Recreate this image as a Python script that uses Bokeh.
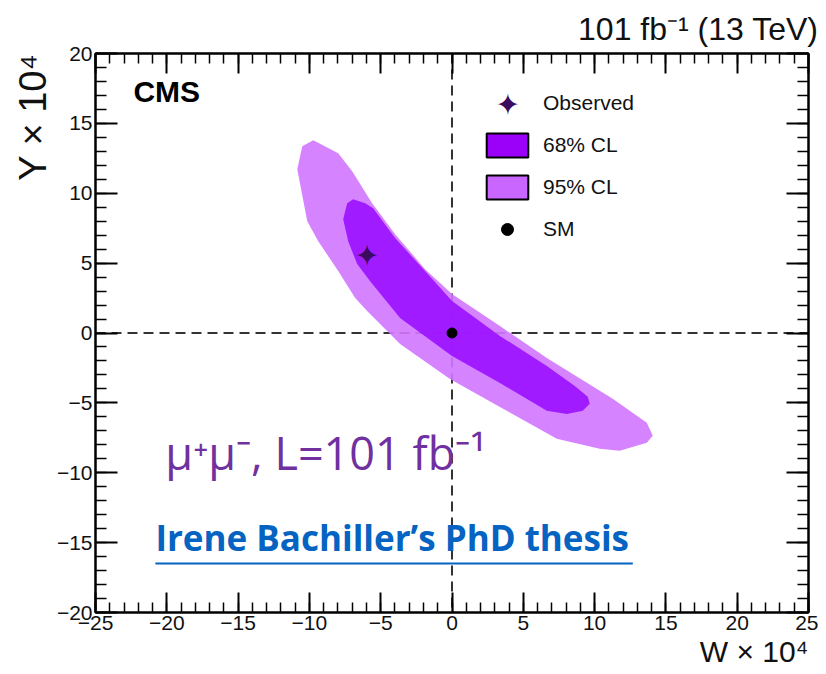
from math import pi
from bokeh.plotting import figure
from bokeh.models import (Range1d, LinearAxis, FixedTicker, Span, Label, Legend, Title,
                          LegendItem, BoxAnnotation, PolyAnnotation, CustomJSTickFormatter)
from bokeh.core.properties import value
from bokeh.embed import file_html
from bokeh.resources import INLINE

# ---------------- data ----------------
x_ticks = [-25, -20, -15, -10, -5, 0, 5, 10, 15, 20, 25]
x_tick_labels = ["\u221225", "\u221220", "\u221215", "\u221210", "\u22125", "0", "5", "10", "15", "20", "25"]
x_minor = list(range(-25, 26))
y_ticks = [-20, -15, -10, -5, 0, 5, 10, 15, 20]
y_tick_labels = ["\u221220", "\u221215", "\u221210", "\u22125", "0", "5", "10", "15", "20"]
y_minor = list(range(-20, 21))

# 95% CL contour (W x 1e4, Y x 1e4)
cl95_w = [-9.73, -7.98, -7.0, -5.6, -3.99, -1.89, 0.0, 3.36, 6.65, 11.27, 13.66, 14.08, 13.66,
          11.76, 10.36, 7.35, 3.36, -0.14, -3.64, -5.95, -6.79, -7.98, -9.38, -10.15, -10.85, -10.5]
cl95_y = [13.79, 12.86, 11.57, 9.29, 7.07, 4.57, 2.79, 0.5, -1.79, -4.71, -6.43, -7.36, -7.86,
          -8.43, -8.29, -7.57, -5.29, -3.29, -0.79, 1.57, 2.5, 4.43, 6.57, 8.0, 11.71, 13.36]

# 68% CL contour
cl68_w = [-7.35, -6.93, -6.09, -5.53, -3.99, -1.89, 0.0, 3.36, 6.65, 8.61, 9.52, 9.66, 9.17,
          8.05, 6.65, 3.36, 0.0, -3.64, -5.74, -6.65, -7.28, -7.63]
cl68_y = [9.29, 9.57, 9.29, 8.93, 6.79, 4.43, 2.29, -0.21, -2.36, -3.79, -4.57, -5.07, -5.57,
          -5.79, -5.57, -3.57, -1.64, 1.07, 3.71, 4.93, 6.57, 8.14]

obs_w, obs_y = [-5.95], [5.57]
sm_w, sm_y = [0.0], [0.0]

legend_labels = ["Observed", "68% CL", "95% CL", "SM"]

# ---------------- figure ----------------
FONT = "Liberation Sans"
p = figure(frame_width=713, frame_height=559, x_range=Range1d(-25, 25), y_range=Range1d(-20, 20),
           output_backend="svg", toolbar_location=None,
           min_border_left=95, min_border_right=10, min_border_top=53, min_border_bottom=61)
p.grid.visible = False
p.outline_line_color = "black"
p.outline_line_width = 2
p.background_fill_color = "white"
p.border_fill_color = "white"

p.add_layout(LinearAxis(), "above")
p.add_layout(LinearAxis(), "right")


def style_axis(ax, ticks, minor, labels, major_len, minor_len, show):
    ax.ticker = FixedTicker(ticks=ticks, minor_ticks=minor)
    ax.major_tick_in = major_len
    ax.major_tick_out = 0
    ax.minor_tick_in = minor_len
    ax.minor_tick_out = 0
    ax.axis_line_width = 2
    ax.axis_line_color = "black"
    ax.major_tick_line_width = 2
    ax.minor_tick_line_width = 1.5
    ax.major_tick_line_color = "black"
    ax.minor_tick_line_color = "black"
    if show:
        ax.major_label_overrides = {t: l for t, l in zip(ticks, labels)}
        ax.major_label_text_font = FONT
        ax.major_label_text_font_size = "21px"
        ax.major_label_text_color = "#111111"
        ax.major_label_standoff = 3
    else:
        ax.formatter = CustomJSTickFormatter(code="return ''")
        ax.major_label_standoff = 0


style_axis(p.below[0], x_ticks, x_minor, x_tick_labels, 20, 10, True)
style_axis(p.above[0], x_ticks, x_minor, x_tick_labels, 20, 10, False)
style_axis(p.left[0], y_ticks, y_minor, y_tick_labels, 22, 11, True)
style_axis(p.right[0], y_ticks, y_minor, y_tick_labels, 22, 11, False)

# axis titles and energy/lumi text in the side panels
p.add_layout(Title(text="101 fb\u207b\u00b9 (13 TeV)", align="right", offset=-10, standoff=13,
                   text_font=FONT, text_font_size="32px", text_font_style="normal",
                   text_color="#111111"), "above")
p.add_layout(Title(text="W \u00d7 10\u2074", align="right", offset=0, standoff=0,
                   text_font=FONT, text_font_size="30px", text_font_style="normal",
                   text_color="#111111"), "below")
p.add_layout(Title(text="Y \u00d7 10\u2074", align="right", offset=0, standoff=0,
                   text_font=FONT, text_font_size="38px", text_font_style="normal",
                   text_color="#111111"), "left")

# dashed reference lines (under the contours)
p.add_layout(Span(location=0, dimension="height", line_color="#333333", line_width=2,
                  line_dash="10 6", level="underlay"))
p.add_layout(Span(location=0, dimension="width", line_color="#333333", line_width=2,
                  line_dash="10 6", level="underlay"))

r95 = p.patch(cl95_w, cl95_y, fill_color="#D175FF", fill_alpha=0.9, line_color=None)
r68 = p.patch(cl68_w, cl68_y, fill_color="#9A0FFF", fill_alpha=0.9, line_color=None)
r_sm = p.scatter(sm_w, sm_y, size=10, color="black")
r_obs = p.text(x=obs_w, y=obs_y, text=["\u2726"], text_font=value("DejaVu Sans"),
               text_font_size="30px", text_align="center", text_baseline="middle",
               text_color="#3A0B5E")

# legend proxies (not drawn in the plot area)
leg68 = p.patch(cl68_w, cl68_y, fill_color="#9B00F8", line_color="black", line_width=2, visible=False)
leg95 = p.patch(cl95_w, cl95_y, fill_color="#C966FF", line_color="black", line_width=2, visible=False)

legend = Legend(items=[LegendItem(label=legend_labels[0], renderers=[r_obs]),
                       LegendItem(label=legend_labels[1], renderers=[leg68]),
                       LegendItem(label=legend_labels[2], renderers=[leg95]),
                       LegendItem(label=legend_labels[3], renderers=[r_sm])],
                location=(386, 368), glyph_width=52, glyph_height=30, spacing=12,
                padding=0, margin=0, label_standoff=10,
                label_text_font=FONT, label_text_font_size="21px", label_text_color="#111111",
                background_fill_alpha=0, border_line_alpha=0)
p.add_layout(legend)

# legend symbol for "Observed"
p.text(x=[3.92], y=[16.36], text=["\u2726"], text_font=value("DejaVu Sans"),
       text_font_size="30px", text_align="center", text_baseline="middle", text_color="#3A0B5E")

# texts inside the frame
p.add_layout(Label(x=-22.34, y=16.07, text="CMS", text_font=FONT, text_font_style="bold",
                   text_font_size="30px", text_color="black"))
p.add_layout(Label(x=-20.1, y=-10.71, text="\u03bc\u207a\u03bc\u207b, L=101 fb\u207b\u00b9",
                   text_font="Open Sans", text_font_size="45px", text_color="#7030A0"))
p.add_layout(Label(x=-20.8, y=-16.29, text="Irene Bachiller\u2019s PhD thesis",
                   text_font="Open Sans", text_font_style="bold", text_font_size="35px",
                   text_color="#0563C1"))
p.add_layout(BoxAnnotation(left=-20.8, right=12.68, bottom=-16.57, top=-16.43,
                           fill_color="#0563C1", fill_alpha=1, line_color=None))

# slide arrow at the left edge
p.add_layout(PolyAnnotation(xs=[0, 15, 0], ys=[363, 379, 395], xs_units="canvas",
                            ys_units="canvas", fill_color="#0070C0", fill_alpha=1,
                            line_color=None))

open("out.html", "w").write(file_html(p, INLINE))
